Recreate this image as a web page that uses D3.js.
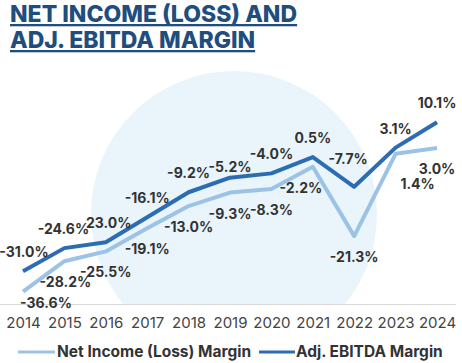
<!DOCTYPE html>
<meta charset="utf-8">
<style>
body { margin: 0; background: #fff; }
text { font-family: Inter, "Noto Sans", sans-serif; }
.line { fill: none; stroke-width: 4px; stroke-linejoin: round; }
</style>
<body>
<script src="https://d3js.org/d3.v7.min.js"></script>
<script>

// chart data
var years = ["2014", "2015", "2016", "2017", "2018", "2019", "2020", "2021", "2022", "2023", "2024"];
var netIncome = [-36.6, -28.2, -25.5, -19.1, -13.0, -9.3, -8.3, -2.2, -21.3, 1.4, 3.0];
var ebitda = [-31.0, -24.6, -23.0, -16.1, -9.2, -5.2, -4.0, 0.5, -7.7, 3.1, 10.1];
var netLabels = ["-36.6%", "-28.2%", "-25.5%", "-19.1%", "-13.0%", "-9.3%", "-8.3%", "-2.2%", "-21.3%", "1.4%", "3.0%"];
var ebitdaLabels = ["-31.0%", "-24.6%", "23.0%", "-16.1%", "-9.2%", "-5.2%", "-4.0%", "0.5%", "-7.7%", "3.1%", "10.1%"];
var seriesNames = ["Net Income (Loss) Margin", "Adj. EBITDA Margin"];

var W = 462, H = 363;
var lightBlue = "#9cc3e5", darkBlue = "#2c6cb2";

var svg = d3.select("body").append("svg")
    .attr("width", W)
    .attr("height", H);

// title
var title = svg.append("g");
[["NET INCOME (LOSS) AND", 22], ["ADJ. EBITDA MARGIN", 48]].forEach(function(t) {
  title.append("text")
      .attr("x", 10)
      .attr("y", t[1])
      .attr("fill", "#1f4e7e")
      .style("font-size", "23px")
      .style("font-weight", 800)
      .style("text-decoration", "underline")
      .text(t[0]);
});

// scales
var x = d3.scalePoint().domain(years).range([23, 437]);
var y = d3.scaleLinear().domain([-40, 30]).range([304, 50]);

// background circle, cut at the baseline
svg.append("clipPath").attr("id", "clip")
  .append("rect").attr("x", 0).attr("y", 0).attr("width", W).attr("height", y(-40));
svg.append("circle")
    .attr("clip-path", "url(#clip)")
    .attr("cx", 234).attr("cy", 214).attr("r", 143)
    .attr("fill", "#e9f5fb");

// baseline
svg.append("line")
    .attr("x1", 0).attr("x2", 456)
    .attr("y1", y(-40) + 0.5).attr("y2", y(-40) + 0.5)
    .attr("stroke", "#d9d9d9");

// x axis labels
var xAxis = svg.append("g")
    .attr("transform", "translate(0," + (y(-40) + 7) + ")")
    .call(d3.axisBottom(x).tickSize(0).tickPadding(6));
xAxis.select(".domain").remove();
xAxis.selectAll("text")
    .style("font-size", "15px")
    .style("font-family", "Inter, sans-serif")
    .attr("fill", "#444");

var line = d3.line()
    .x(function(d, i) { return x(years[i]); })
    .y(function(d) { return y(d); });

svg.append("path").datum(netIncome).attr("class", "line")
    .attr("stroke", lightBlue).attr("d", line);
svg.append("path").datum(ebitda).attr("class", "line")
    .attr("stroke", darkBlue).attr("d", line);

// data labels (with a few nudges where they collide)
var darkNudge = {0: [1, 0], 1: [-1, 0], 2: [3, 0], 5: [0, 8], 8: [-6, -9]};
var lightNudge = {0: [23, -10], 1: [1, 0], 7: [-12, 0], 9: [22, 9]};

function labels(vals, txt, off, nudge) {
  svg.append("g").selectAll("text")
    .data(vals)
    .join("text")
      .attr("x", function(d, i) {
        var n = nudge[i] || [0, 0];
        return x(years[i]) + n[0];
      })
      .attr("y", function(d, i) {
        var n = nudge[i] || [0, 0];
        return y(d) + off + n[1];
      })
      .attr("text-anchor", "middle")
      .attr("dy", "0.35em")
      .attr("fill", "#333")
      .style("font-size", "14px")
      .style("font-weight", 700)
      .text(function(d, i) { return txt[i]; });
}
labels(ebitda, ebitdaLabels, -19, darkNudge);
labels(netIncome, netLabels, 21, lightNudge);

// legend
var legend = svg.append("g").attr("transform", "translate(0,352)");
[[18, 55, 57, lightBlue, seriesNames[0]], [259, 295, 296, darkBlue, seriesNames[1]]].forEach(function(l) {
  legend.append("line")
      .attr("x1", l[0]).attr("x2", l[1])
      .attr("stroke", l[3]).attr("stroke-width", 3);
  legend.append("text")
      .attr("x", l[2])
      .attr("dy", "0.35em")
      .attr("fill", "#333")
      .style("font-size", "15.5px")
      .style("font-weight", 700)
      .text(l[4]);
});

</script>
</body>
